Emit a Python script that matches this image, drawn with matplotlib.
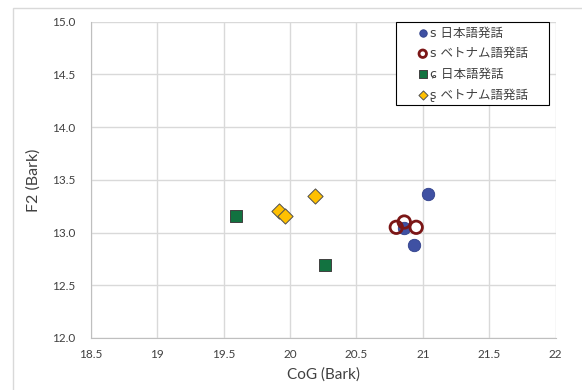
import matplotlib.pyplot as plt
from matplotlib.patches import Rectangle

plt.rcParams['font.family'] = ['Noto Sans CJK JP', 'DejaVu Sans']

# CoG / F2 values (Bark) per group
s_jp_x = [21.04, 20.93, 20.86]
s_jp_y = [13.37, 12.88, 13.04]
s_vn_x = [20.80, 20.86, 20.95]
s_vn_y = [13.05, 13.10, 13.05]
c_jp_x = [19.59, 20.26]
c_jp_y = [13.16, 12.69]
sr_vn_x = [19.92, 19.96, 20.19]
sr_vn_y = [13.20, 13.16, 13.35]

labels = ['s 日本語発話', 's ベトナム語発話', 'ɕ 日本語発話', 'ʂ ベトナム語発話']
xticks = [18.5, 19, 19.5, 20, 20.5, 21, 21.5, 22]
xticklabels = ['18.5', '19', '19.5', '20', '20.5', '21', '21.5', '22']
yticks = [12.0, 12.5, 13.0, 13.5, 14.0, 14.5, 15.0]

latin = ['Lato', 'DejaVu Sans']
W, H = 582, 390

fig = plt.figure(figsize=(W / 100, H / 100), dpi=100)
# outer chart border
fig.patches.append(Rectangle((13 / W, -0.1), 1.0, 1.1 - 8 / H,
                             transform=fig.transFigure, fill=False,
                             edgecolor='#d9d9d9', linewidth=1.0))
ax = fig.add_axes([90.7 / W, 1 - 338 / H, (555.7 - 90.7) / W, (338 - 21.7) / H])

ax.scatter(s_jp_x, s_jp_y, s=80, marker='o', facecolor='#3f51a3',
           edgecolor='#2f3f8a', linewidth=0.6, label=labels[0], zorder=3)
ax.scatter(s_vn_x, s_vn_y, s=80, marker='o', facecolor='none',
           edgecolor='#7b1616', linewidth=2.0, label=labels[1], zorder=4)
ax.scatter(c_jp_x, c_jp_y, s=75, marker='s', facecolor='#127240',
           edgecolor='#404040', linewidth=0.7, label=labels[2], zorder=3)
ax.scatter(sr_vn_x, sr_vn_y, s=60, marker='D', facecolor='#ffc000',
           edgecolor='#505050', linewidth=0.7, label=labels[3], zorder=3)

ax.set_xlim(18.5, 22)
ax.set_ylim(12.0, 15.0)
ax.set_xticks(xticks)
ax.set_xticklabels(xticklabels, family=latin)
ax.set_yticks(yticks)
ax.set_yticklabels(['%.1f' % v for v in yticks], family=latin)
ax.grid(True, color='#d9d9d9', linewidth=1.0)
ax.set_axisbelow(True)
for side in ['top', 'right']:
    ax.spines[side].set_visible(False)
for side in ['left', 'bottom']:
    ax.spines[side].set_color('#bfbfbf')
ax.tick_params(length=0, labelsize=8.5, colors='#404040')
ax.tick_params(axis='x', pad=8)
ax.tick_params(axis='y', pad=11)

ax.set_xlabel('CoG (Bark)', fontsize=11, color='#404040', labelpad=5,
              family=latin)
ax.set_ylabel('F2 (Bark)', fontsize=11.5, color='#404040', labelpad=8,
              family=latin)

# legend box drawn separately so its padding can be wider than the text
ax.add_patch(Rectangle((396 / W, 1 - 105 / H), 153 / W, 83 / H,
                       transform=fig.transFigure, facecolor='white',
                       edgecolor='#000000', linewidth=0.8, zorder=5,
                       clip_on=False))
leg = ax.legend(loc='upper left', bbox_to_anchor=(416.5 / W, 1 - 26.5 / H),
                bbox_transform=fig.transFigure,
                prop={'family': ['DejaVu Sans', 'Noto Sans CJK JP'], 'size': 9},
                frameon=False, handletextpad=0.1, borderpad=0,
                labelspacing=0.6, handlelength=1.0, markerscale=0.6,
                borderaxespad=0)
leg.set_zorder(6)
for t in leg.get_texts():
    t.set_color('#404040')

fig.savefig('out.png', dpi=100)
